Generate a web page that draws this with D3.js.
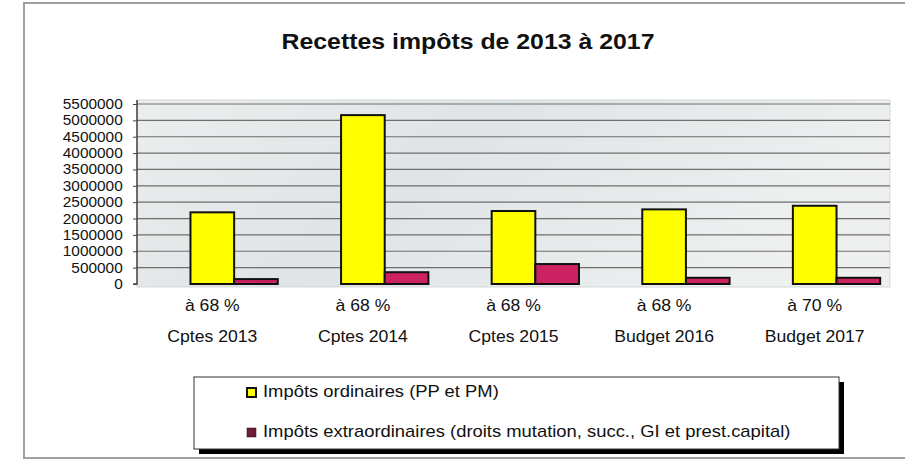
<!DOCTYPE html>
<html>
<head>
<meta charset="utf-8">
<script src="https://cdn.jsdelivr.net/npm/d3@7"></script>
<style>
  body { margin: 0; background: #fff; }
  svg { display: block; font-family: "Liberation Sans", Arial, sans-serif; }
</style>
</head>
<body>
<div id="chart"></div>
<script>
// data
const categories = ["Cptes 2013", "Cptes 2014", "Cptes 2015", "Budget 2016", "Budget 2017"]
const percents = ["à 68 %", "à 68 %", "à 68 %", "à 68 %", "à 70 %"]
const ordinaires = [2190000, 5160000, 2230000, 2280000, 2390000]
const extraordinaires = [150000, 360000, 610000, 190000, 190000]
const yTicks = [0, 500000, 1000000, 1500000, 2000000, 2500000, 3000000, 3500000, 4000000, 4500000, 5000000, 5500000]
const seriesNames = ["Impôts ordinaires (PP et PM)", "Impôts extraordinaires (droits mutation, succ., GI et prest.capital)"]
const seriesColors = ["#ffff00", "#cc2262"]

const width = 905
const height = 460

const svg = d3.select("#chart").append("svg")
  .attr("width", width)
  .attr("height", height)

// the scan is a bit stretched sideways, so text gets a small x scale
const stretchText = (sel, x, y, sx) => sel.append("g")
  .attr("transform", `translate(${x},${y}) scale(${sx},1)`)
  .append("text")

// outer frame
svg.append("rect")
  .attr("x", 24).attr("y", 3)
  .attr("width", 884).attr("height", 455)
  .attr("fill", "#fff")
  .attr("stroke", "#a0a0a0")
  .attr("stroke-width", 2)

stretchText(svg, 468, 49, 1.13)
  .attr("text-anchor", "middle")
  .attr("font-size", 22)
  .attr("font-weight", "bold")
  .attr("fill", "#111")
  .text("Recettes impôts de 2013 à 2017")

// plot area
const plot = { left: 137, right: 890, top: 100, bottom: 287 }

const x = d3.scaleBand()
  .domain(categories)
  .range([plot.left, plot.right])

// Excel left an empty first slot in each group, so the bars sit right of centre
const xSub = d3.scaleBand()
  .domain(["vide", "ord", "ext"])
  .range([0, x.bandwidth()])
  .paddingOuter(0.225)

const y = d3.scaleLinear()
  .domain([0, 5500000])
  .range([284, 104])

const defs = svg.append("defs")
const grad = defs.append("linearGradient")
  .attr("id", "bg").attr("x1", 0).attr("x2", 1).attr("y1", 0).attr("y2", 0.3)
grad.append("stop").attr("offset", "0%").attr("stop-color", "#eceeee")
grad.append("stop").attr("offset", "45%").attr("stop-color", "#dfe4e6")
grad.append("stop").attr("offset", "100%").attr("stop-color", "#eef0f0")

svg.append("rect")
  .attr("x", plot.left).attr("y", plot.top)
  .attr("width", plot.right - plot.left)
  .attr("height", plot.bottom - plot.top)
  .attr("fill", "url(#bg)")
  .attr("stroke", "#d4d8d9")

// gridlines
svg.append("g")
  .selectAll("line")
  .data(yTicks.slice(1))
  .join("line")
  .attr("x1", plot.left).attr("x2", plot.right)
  .attr("y1", d => y(d)).attr("y2", d => y(d))
  .attr("stroke", "#6e6e6e")
  .attr("stroke-width", 1.2)

// y axis
const yAxis = svg.append("g")
  .attr("transform", `translate(${plot.left},0)`)
  .call(d3.axisLeft(y).tickValues(yTicks).tickFormat(d3.format("d")).tickSize(4).tickPadding(9))
yAxis.select(".domain").attr("stroke", "#444").attr("stroke-width", 1.5).attr("d", `M-4,${y(0)}H0V${plot.top}`)
yAxis.selectAll(".tick line").attr("stroke", "#444")
yAxis.selectAll(".tick text")
  .attr("font-size", 14)
  .attr("fill", "#111")
  .attr("font-family", "Liberation Sans, Arial, sans-serif")
  .attr("transform", "scale(1.1,1)")

// bars
const rows = categories.map((c, i) => ({ cat: c, ord: ordinaires[i], ext: extraordinaires[i] }))
const groups = svg.append("g")
  .selectAll("g")
  .data(rows)
  .join("g")
  .attr("transform", d => `translate(${x(d.cat)},0)`)

groups.selectAll("rect")
  .data(d => [{ key: "ord", v: d.ord, c: seriesColors[0] }, { key: "ext", v: d.ext, c: seriesColors[1] }])
  .join("rect")
  .attr("x", d => xSub(d.key))
  .attr("width", xSub.bandwidth())
  .attr("y", d => y(d.v))
  .attr("height", d => y(0) - y(d.v))
  .attr("fill", d => d.c)
  .attr("stroke", "#111")
  .attr("stroke-width", 2)

// category labels, two lines
const labels = svg.append("g")
  .attr("text-anchor", "middle")
  .attr("font-size", 16)
  .attr("fill", "#111")
labels.selectAll(".pct")
  .data(percents)
  .join("g")
  .attr("class", "pct")
  .attr("transform", (d, i) => `translate(${x(categories[i]) + x.bandwidth() / 2},311) scale(1.1,1)`)
  .append("text")
  .text(d => d)
labels.selectAll(".cat")
  .data(categories)
  .join("g")
  .attr("class", "cat")
  .attr("transform", d => `translate(${x(d) + x.bandwidth() / 2},342) scale(1.1,1)`)
  .append("text")
  .text(d => d)

// legend box with drop shadow
const lg = { x: 194, y: 377, w: 645, h: 72 }
svg.append("rect")
  .attr("x", lg.x + 5).attr("y", lg.y + 5)
  .attr("width", lg.w).attr("height", lg.h)
  .attr("fill", "#000")
svg.append("rect")
  .attr("x", lg.x).attr("y", lg.y)
  .attr("width", lg.w).attr("height", lg.h)
  .attr("fill", "#fff")
  .attr("stroke", "#333")
  .attr("stroke-width", 1)

const items = svg.append("g")
  .selectAll("g")
  .data(seriesNames)
  .join("g")
  .attr("transform", (d, i) => `translate(${lg.x + 53},${lg.y + 19 + i * 40})`)
items.append("rect")
  .attr("x", 0).attr("y", -8)
  .attr("width", 9).attr("height", 9)
  .attr("fill", (d, i) => i === 0 ? seriesColors[0] : "#6e1c3a")
  .attr("stroke", "#111")
  .attr("stroke-width", (d, i) => i === 0 ? 2 : 0.5)
items.append("g")
  .attr("transform", "translate(16,1) scale(1.15,1)")
  .append("text")
  .attr("font-size", 16)
  .attr("fill", "#111")
  .text(d => d)
</script>
</body>
</html>
